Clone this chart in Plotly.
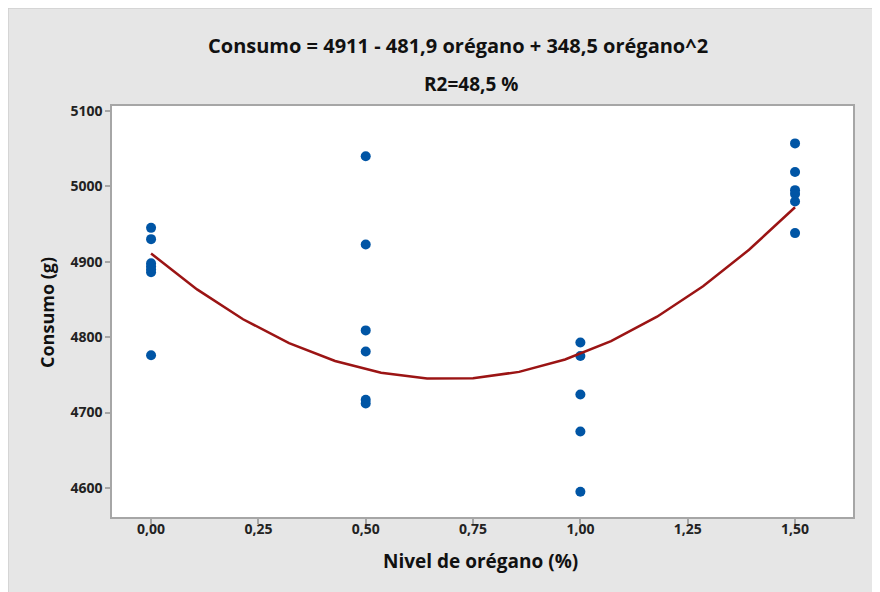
import numpy as np
import plotly.graph_objects as go

# Data
x_00 = [0.0] * 7
y_00 = [4945, 4930, 4898, 4894, 4890, 4886, 4776]
x_05 = [0.5] * 6
y_05 = [5040, 4923, 4809, 4781, 4717, 4712]
x_10 = [1.0] * 5
y_10 = [4793, 4775, 4724, 4675, 4595]
x_15 = [1.5] * 6
y_15 = [5057, 5019, 4995, 4990, 4980, 4938]

# Fitted model (from the chart title)
b0, b1, b2 = 4911.0, -481.9, 348.5

x_ticks = [0.0, 0.25, 0.5, 0.75, 1.0, 1.25, 1.5]
x_ticktext = ["0,00", "0,25", "0,50", "0,75", "1,00", "1,25", "1,50"]
y_ticks = [4600, 4700, 4800, 4900, 5000, 5100]

title1 = "Consumo = 4911 - 481,9 orégano + 348,5 orégano^2"
title2 = "R2=48,5 %"
x_title = "Nivel de orégano (%)"
y_title = "Consumo (g)"

xs = x_00 + x_05 + x_10 + x_15
ys = y_00 + y_05 + y_10 + y_15

xf = np.linspace(0, 1.5, 15)
yf = b0 + b1 * xf + b2 * xf ** 2

FONT = "Open Sans"
OFF = 8  # page body margin
W, H = 880, 592
# target screenshot plot area: left 112, right 853, top 106, bottom 517
L = 112 - OFF
T = 106 - OFF
R = W - (853 - OFF)
B = H - (517 - OFF)
pw, ph = W - L - R, H - T - B

def px(x):  # screenshot x -> paper
    return (x - OFF - L) / pw

def py(y):  # screenshot y -> paper
    return (H - B - (y - OFF)) / ph

fig = go.Figure()
fig.add_trace(go.Scatter(x=xs, y=ys, mode="markers",
                         marker=dict(color="#0055A5", size=10),
                         showlegend=False, hoverinfo="skip"))
fig.add_trace(go.Scatter(x=xf, y=yf, mode="lines",
                         line=dict(color="#9B1414", width=2.5),
                         showlegend=False, hoverinfo="skip"))

axis_common = dict(showline=True, linecolor="#a6a6a6", linewidth=1.5, mirror=True,
                   showgrid=False, zeroline=False, ticks="outside", ticklen=5,
                   tickcolor="#a6a6a6", tickwidth=1.5,
                   tickfont=dict(family=FONT, size=14, color="#222222"))

fig.update_layout(
    width=W, height=H,
    margin=dict(l=L, r=R, t=T, b=B),
    paper_bgcolor="#e6e6e6", plot_bgcolor="white",
    xaxis=dict(range=[-0.091, 1.635], tickvals=x_ticks, ticklabelstandoff=-7,
               ticktext=["<b>" + t + "</b>" for t in x_ticktext], **axis_common),
    yaxis=dict(range=[4561.5, 5106.6], tickvals=y_ticks,
               ticktext=["<b>" + str(v) + "</b>" for v in y_ticks], **axis_common),
    shapes=[dict(type="rect", xref="paper", yref="paper", layer="below",
                 x0=px(8), x1=px(900), y0=py(610), y1=py(8),
                 fillcolor="rgba(0,0,0,0)", line=dict(color="#cfcfcf", width=1.5))],
    annotations=[
        dict(text="<b>" + title1 + "</b>", xref="paper", yref="paper",
             x=px(458), y=py(45), showarrow=False, xanchor="center", yanchor="middle",
             font=dict(family=FONT, size=20, color="#111111")),
        dict(text="<b>" + title2 + "</b>", xref="paper", yref="paper",
             x=px(471), y=py(84), showarrow=False, xanchor="center", yanchor="middle",
             font=dict(family=FONT, size=19, color="#111111")),
        dict(text="<b>" + x_title + "</b>", xref="paper", yref="paper",
             x=px(480), y=py(561), showarrow=False, xanchor="center", yanchor="middle",
             font=dict(family=FONT, size=19, color="#111111")),
        dict(text="<b>" + y_title + "</b>", xref="paper", yref="paper",
             x=px(47), y=py(313), showarrow=False, xanchor="center", yanchor="middle",
             textangle=-90, font=dict(family=FONT, size=18, color="#111111")),
    ],
)

fig.write_html("out.html")
